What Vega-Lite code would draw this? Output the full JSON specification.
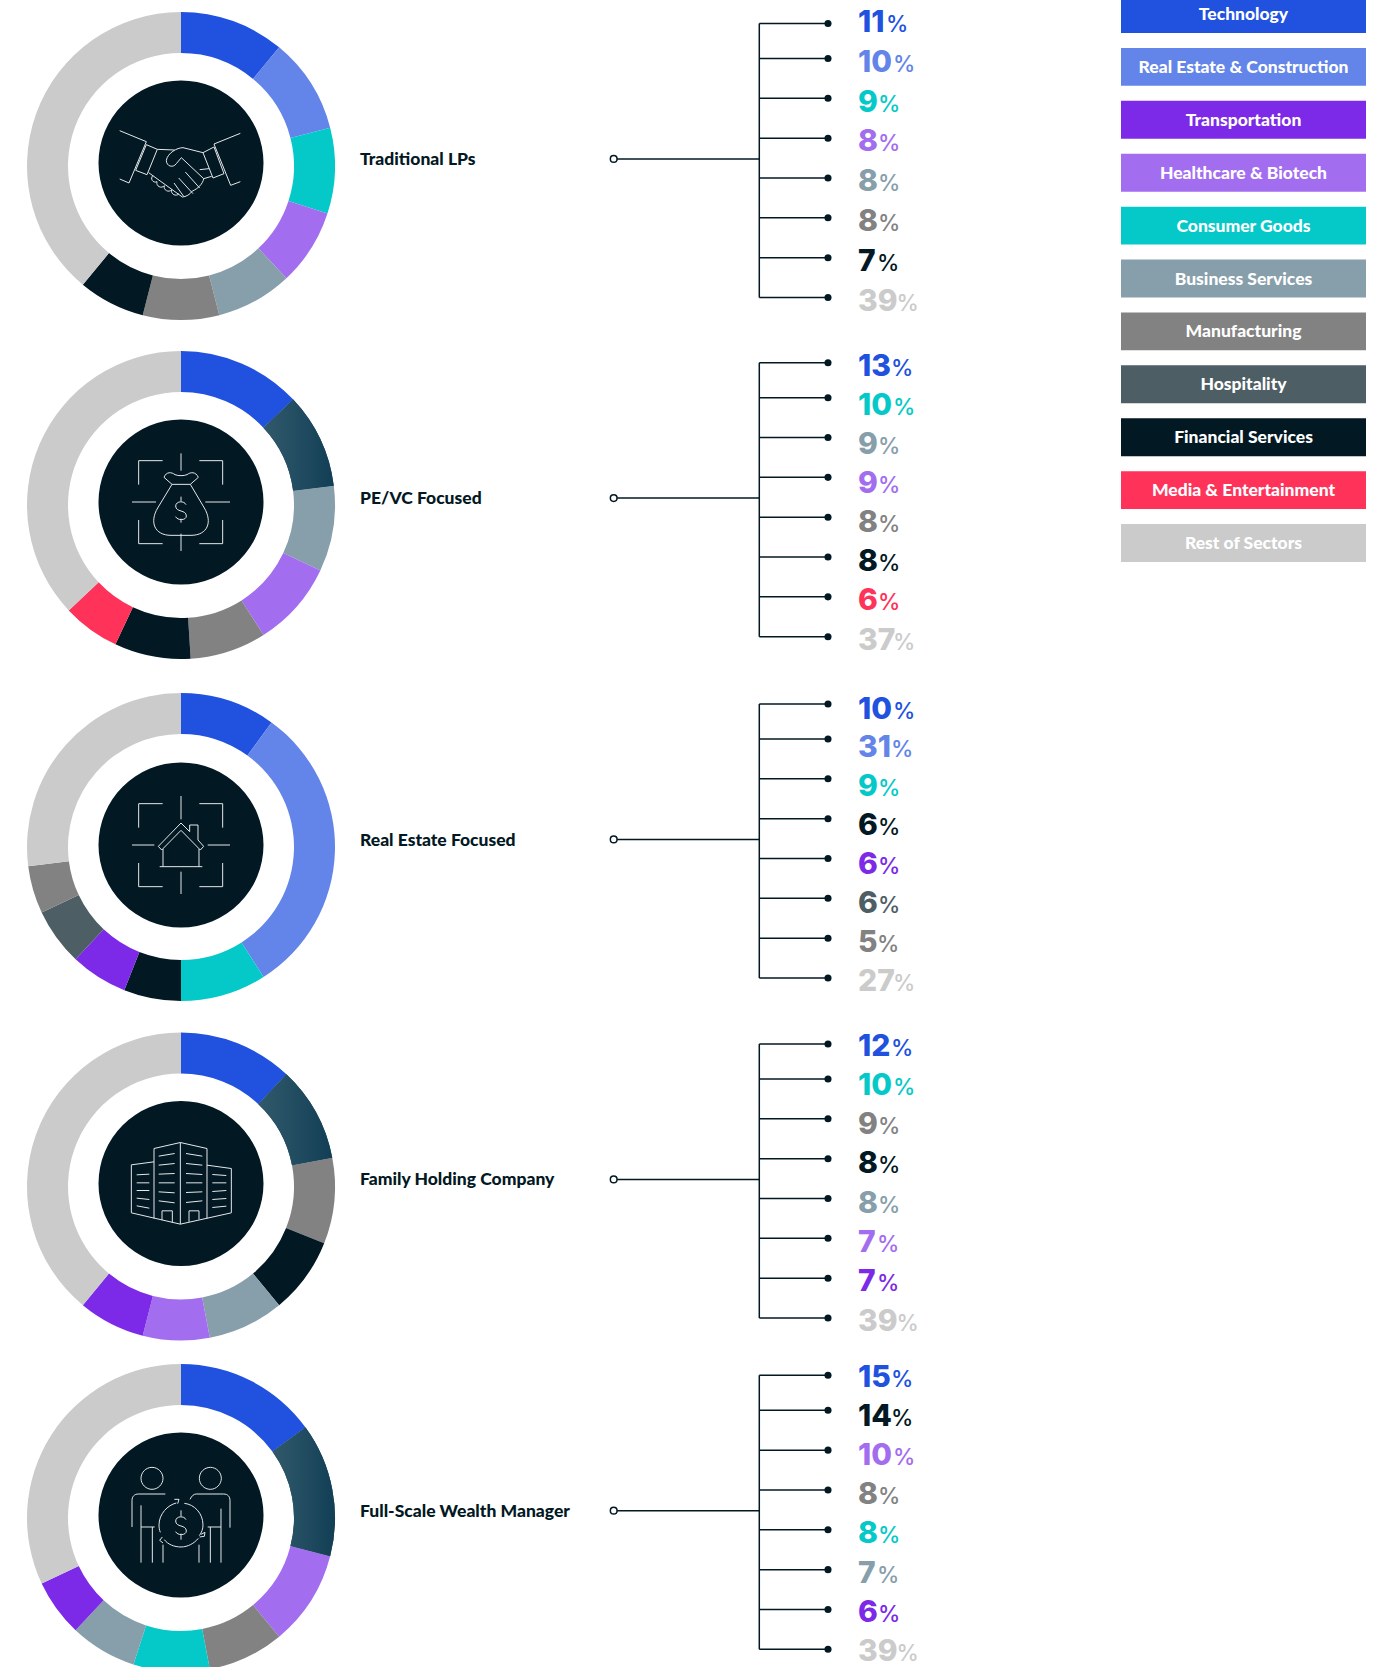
{"$schema":"https://vega.github.io/schema/vega-lite/v6.json","padding":0,"background":"white","spacing":0,"config":{"view":{"stroke":null},"concat":{"spacing":0},"axis":{"disable":true},"legend":{"disable":true}},
"datasets":{"groups":[{"group":"Traditional LPs"},{"group":"PE/VC Focused"},{"group":"Real Estate Focused"},{"group":"Family Holding Company"},{"group":"Full-Scale Wealth Manager"}],
"legend":[{"sector":"Technology"},{"sector":"Real Estate & Construction"},{"sector":"Transportation"},{"sector":"Healthcare & Biotech"},{"sector":"Consumer Goods"},{"sector":"Business Services"},{"sector":"Manufacturing"},{"sector":"Hospitality"},{"sector":"Financial Services"},{"sector":"Media & Entertainment"},{"sector":"Rest of Sectors"}],
"rows":[
{"group":"Traditional LPs","rank":1,"sector":"Technology","ring":"Technology","value":11,"share":11},
{"group":"Traditional LPs","rank":2,"sector":"Real Estate & Construction","ring":"Real Estate & Construction","value":10,"share":10},
{"group":"Traditional LPs","rank":3,"sector":"Consumer Goods","ring":"Consumer Goods","value":9,"share":9},
{"group":"Traditional LPs","rank":4,"sector":"Healthcare & Biotech","ring":"Healthcare & Biotech","value":8,"share":8},
{"group":"Traditional LPs","rank":5,"sector":"Business Services","ring":"Business Services","value":8,"share":8},
{"group":"Traditional LPs","rank":6,"sector":"Manufacturing","ring":"Manufacturing","value":8,"share":8},
{"group":"Traditional LPs","rank":7,"sector":"Financial Services","ring":"Financial Services","value":7,"share":7},
{"group":"Traditional LPs","rank":8,"sector":"Rest of Sectors","ring":"Rest of Sectors","value":39,"share":39},
{"group":"PE/VC Focused","rank":1,"sector":"Technology","ring":"Technology","value":13,"share":13},
{"group":"PE/VC Focused","rank":2,"sector":"Consumer Goods","ring":"Deep","value":10,"share":10},
{"group":"PE/VC Focused","rank":3,"sector":"Business Services","ring":"Business Services","value":9,"share":9},
{"group":"PE/VC Focused","rank":4,"sector":"Healthcare & Biotech","ring":"Healthcare & Biotech","value":9,"share":9},
{"group":"PE/VC Focused","rank":5,"sector":"Manufacturing","ring":"Manufacturing","value":8,"share":8},
{"group":"PE/VC Focused","rank":6,"sector":"Financial Services","ring":"Financial Services","value":8,"share":8},
{"group":"PE/VC Focused","rank":7,"sector":"Media & Entertainment","ring":"Media & Entertainment","value":6,"share":6},
{"group":"PE/VC Focused","rank":8,"sector":"Rest of Sectors","ring":"Rest of Sectors","value":37,"share":37},
{"group":"Real Estate Focused","rank":1,"sector":"Technology","ring":"Technology","value":10,"share":10},
{"group":"Real Estate Focused","rank":2,"sector":"Real Estate & Construction","ring":"Real Estate & Construction","value":31,"share":31},
{"group":"Real Estate Focused","rank":3,"sector":"Consumer Goods","ring":"Consumer Goods","value":9,"share":9},
{"group":"Real Estate Focused","rank":4,"sector":"Financial Services","ring":"Financial Services","value":6,"share":6},
{"group":"Real Estate Focused","rank":5,"sector":"Transportation","ring":"Transportation","value":6,"share":6},
{"group":"Real Estate Focused","rank":6,"sector":"Hospitality","ring":"Hospitality","value":6,"share":6},
{"group":"Real Estate Focused","rank":7,"sector":"Manufacturing","ring":"Manufacturing","value":5,"share":5},
{"group":"Real Estate Focused","rank":8,"sector":"Rest of Sectors","ring":"Rest of Sectors","value":27,"share":27},
{"group":"Family Holding Company","rank":1,"sector":"Technology","ring":"Technology","value":12,"share":12},
{"group":"Family Holding Company","rank":2,"sector":"Consumer Goods","ring":"Deep","value":10,"share":10},
{"group":"Family Holding Company","rank":3,"sector":"Manufacturing","ring":"Manufacturing","value":9,"share":9},
{"group":"Family Holding Company","rank":4,"sector":"Financial Services","ring":"Financial Services","value":8,"share":8},
{"group":"Family Holding Company","rank":5,"sector":"Business Services","ring":"Business Services","value":8,"share":8},
{"group":"Family Holding Company","rank":6,"sector":"Healthcare & Biotech","ring":"Healthcare & Biotech","value":7,"share":7},
{"group":"Family Holding Company","rank":7,"sector":"Transportation","ring":"Transportation","value":7,"share":7},
{"group":"Family Holding Company","rank":8,"sector":"Rest of Sectors","ring":"Rest of Sectors","value":39,"share":39},
{"group":"Full-Scale Wealth Manager","rank":1,"sector":"Technology","ring":"Technology","value":15,"share":15},
{"group":"Full-Scale Wealth Manager","rank":2,"sector":"Financial Services","ring":"Deep","value":14,"share":14},
{"group":"Full-Scale Wealth Manager","rank":3,"sector":"Healthcare & Biotech","ring":"Healthcare & Biotech","value":10,"share":10},
{"group":"Full-Scale Wealth Manager","rank":4,"sector":"Manufacturing","ring":"Manufacturing","value":8,"share":8},
{"group":"Full-Scale Wealth Manager","rank":5,"sector":"Consumer Goods","ring":"Consumer Goods","value":8,"share":8},
{"group":"Full-Scale Wealth Manager","rank":6,"sector":"Business Services","ring":"Business Services","value":7,"share":7},
{"group":"Full-Scale Wealth Manager","rank":7,"sector":"Transportation","ring":"Transportation","value":6,"share":6},
{"group":"Full-Scale Wealth Manager","rank":8,"sector":"Rest of Sectors","ring":"Rest of Sectors","value":39,"share":32}
]},
"hconcat":[
{"spacing":0,"vconcat":[
{"bounds":"flush","spacing":0,"hconcat":[
{"width":362,"height":332,"layer":[
{"data":{"name":"rows"},"transform":[{"filter":"datum.group==='Traditional LPs'"}],"mark":{"type":"arc","innerRadius":113,"outerRadius":154},"encoding":{"theta":{"field":"share","type":"quantitative","stack":true},"order":{"field":"rank"},"color":{"field":"ring","type":"nominal","scale":{"domain":["Technology","Real Estate & Construction","Transportation","Healthcare & Biotech","Consumer Goods","Business Services","Manufacturing","Hospitality","Financial Services","Media & Entertainment","Rest of Sectors","Deep"],"range":["#2151DF","#6384E8","#7C2AE8","#A36DF0","#05C9C8","#879EAB","#828282","#4D5E65","#021823","#FF3259","#CBCBCB","#1F4A5E"]}}}},
{"data":{"name":"groups"},"transform":[{"filter":"datum.group==='Traditional LPs'"}],"mark":{"type":"point","filled":true,"fill":"#021823","opacity":1,"size":27225,"yOffset":-3},"encoding":{}},
{"data":{"name":"groups"},"transform":[{"filter":"datum.group==='Traditional LPs'"}],"mark":{"type":"point","filled":false,"stroke":"#FFFFFF","strokeWidth":1,"opacity":0.9,"size":0.4444,"yOffset":-3,"shape":"M-184,-97 L-104,-64 L-156,60 L-184,48 M-104,-55 L-71,-41 L-102,35 L-136,22 Z M178,-89 L99,-57 L149,67 L178,56 M66,-31 L99,-48 L129,32 L96,45 Z M-71,-41 L-19,-39 M66,-31 L6,-46 C-12,-46 -40,-30 -44,-8 C-44,10 -24,16 -14,2 L1,-16 L68,47 C66,62 50,78 34,84 C28,94 14,102 4,102 L-97,29 M56,20 L84,17 M68,47 L92,40 M13,27 L56,75 M-7,45 L36,92 M-21,60 L8,100 M-84,38 C-94,46 -84,62 -72,56 C-76,70 -58,78 -50,68 C-54,82 -36,90 -28,80 C-32,94 -14,102 -6,92"},"encoding":{}}
]},
{"width":238,"height":332,"data":{"name":"groups"},"transform":[{"filter":"datum.group==='Traditional LPs'"}],"mark":{"type":"text","align":"left","baseline":"middle","font":"Lato","fontWeight":900,"fontSize":17.5,"fill":"#021823","yOffset":-6},"encoding":{"x":{"datum":0,"scale":{"domain":[0,1],"range":[-2,238]}},"text":{"field":"group"}}},
{"width":240,"height":332,"layer":[
{"data":{"name":"rows"},"transform":[{"filter":"datum.group==='Traditional LPs'"}],"mark":{"type":"rule","stroke":"#021823","strokeWidth":1.5},"encoding":{"x":{"datum":0,"scale":{"domain":[-1,0,1],"range":[13.7,159.3,228]}},"x2":{"datum":1},"y":{"field":"rank","type":"quantitative","scale":{"domain":[1,2,8],"range":[23.5,58.5,297.5]}}}},
{"data":{"name":"rows"},"transform":[{"filter":"datum.group==='Traditional LPs'"},{"aggregate":[{"op":"min","field":"rank","as":"a"},{"op":"max","field":"rank","as":"b"}]}],"mark":{"type":"rule","stroke":"#021823","strokeWidth":1.5},"encoding":{"x":{"datum":0},"y":{"field":"a","type":"quantitative"},"y2":{"field":"b"}}},
{"data":{"name":"groups"},"transform":[{"filter":"datum.group==='Traditional LPs'"}],"mark":{"type":"rule","stroke":"#021823","strokeWidth":1.5},"encoding":{"x":{"datum":-1},"x2":{"datum":0},"y":{"datum":4.52}}},
{"data":{"name":"rows"},"transform":[{"filter":"datum.group==='Traditional LPs'"}],"mark":{"type":"point","filled":true,"fill":"#021823","opacity":1,"size":50},"encoding":{"x":{"datum":1},"y":{"field":"rank","type":"quantitative"}}},
{"data":{"name":"groups"},"transform":[{"filter":"datum.group==='Traditional LPs'"}],"mark":{"type":"point","filled":true,"fill":"#FFFFFF","stroke":"#021823","strokeWidth":1.5,"opacity":1,"size":45},"encoding":{"x":{"datum":-1},"y":{"datum":4.52}}}
]},
{"width":281,"height":332,"layer":[
{"data":{"name":"rows"},"transform":[{"filter":"datum.group==='Traditional LPs'"}],"mark":{"type":"text","align":"left","baseline":"alphabetic","dy":10.5,"font":"Inter","fontWeight":800,"fontSize":30},"encoding":{"x":{"datum":0,"scale":{"domain":[0,1],"range":[18,281]}},"y":{"field":"rank","type":"quantitative","scale":{"domain":[1,8],"range":[21.7,300]}},"text":{"field":"value"},"color":{"field":"sector","type":"nominal","scale":{"domain":["Technology","Real Estate & Construction","Transportation","Healthcare & Biotech","Consumer Goods","Business Services","Manufacturing","Hospitality","Financial Services","Media & Entertainment","Rest of Sectors"],"range":["#2151DF","#6384E8","#7C2AE8","#A36DF0","#05C9C8","#879EAB","#828282","#4D5E65","#021823","#FF3259","#CBCBCB"]}}}},
{"data":{"name":"rows"},"transform":[{"filter":"datum.group==='Traditional LPs'"}],"mark":{"type":"text","align":"left","baseline":"alphabetic","dy":10.5,"font":"Inter","fontWeight":500,"fontSize":22.5,"text":"%"},"encoding":{"x":{"datum":0},"xOffset":{"field":"value","type":"quantitative","scale":{"domain":[5,6,7,8,9,10,11,12,13,14,15,27,31,37,39],"range":[19,20,19,20,20,35,28,33,33,33,33,35,33,35,38.5]}},"y":{"field":"rank","type":"quantitative"},"color":{"field":"sector","type":"nominal"}}}
]}
]},
{"bounds":"flush","spacing":0,"hconcat":[
{"width":362,"height":346,"layer":[
{"data":{"name":"rows"},"transform":[{"filter":"datum.group==='PE/VC Focused'"}],"mark":{"type":"arc","innerRadius":113,"outerRadius":154},"encoding":{"theta":{"field":"share","type":"quantitative","stack":true},"order":{"field":"rank"},"color":{"field":"ring","type":"nominal","scale":{"domain":["Technology","Real Estate & Construction","Transportation","Healthcare & Biotech","Consumer Goods","Business Services","Manufacturing","Hospitality","Financial Services","Media & Entertainment","Rest of Sectors","Deep"],"range":["#2151DF","#6384E8","#7C2AE8","#A36DF0","#05C9C8","#879EAB","#828282","#4D5E65","#021823","#FF3259","#CBCBCB","#1F4A5E"]}}}},
{"data":{"name":"rows"},"transform":[{"filter":"datum.group==='PE/VC Focused'"},{"stack":"share","groupby":[],"sort":[{"field":"rank"}],"as":["t0","t1"]},{"filter":"datum.ring==='Deep'"}],"mark":{"type":"arc","innerRadius":113,"outerRadius":154,"fill":{"gradient":"linear","x1":0,"y1":0,"x2":1,"y2":0,"stops":[{"offset":0,"color":"#31596B"},{"offset":1,"color":"#123F56"}]}},"encoding":{"theta":{"field":"t0","type":"quantitative","scale":{"domain":[0,100]}},"theta2":{"field":"t1"}}},
{"data":{"name":"groups"},"transform":[{"filter":"datum.group==='PE/VC Focused'"}],"mark":{"type":"point","filled":true,"fill":"#021823","opacity":1,"size":27225,"yOffset":-3},"encoding":{}},
{"data":{"name":"groups"},"transform":[{"filter":"datum.group==='PE/VC Focused'"}],"mark":{"type":"point","filled":false,"stroke":"#FFFFFF","strokeWidth":1,"opacity":0.9,"size":0.4444,"yOffset":-3,"shape":"M-55,-124 L-127,-124 L-127,-52 M55,-124 L125,-124 L125,-52 M-127,54 L-127,125 L-55,125 M125,54 L125,125 L55,125 M0,-146 L0,-94 M0,95 L0,147 M-147,0 L-75,0 M73,0 L147,0 M-27,-53 L28,-53 L70,18 C95,60 80,100 30,100 L-30,100 C-80,100 -95,60 -70,18 L-27,-53 L-51,-74 C-44,-92 -28,-90 -18,-82 C-8,-78 8,-78 18,-82 C28,-90 44,-92 52,-74 L28,-53 M15,8 C10,-4 -15,-4 -16,12 C-16,32 16,22 16,42 C16,56 -11,56 -16,44 M0,-16 L0,-2 M0,50 L0,62"},"encoding":{}}
]},
{"width":238,"height":346,"data":{"name":"groups"},"transform":[{"filter":"datum.group==='PE/VC Focused'"}],"mark":{"type":"text","align":"left","baseline":"middle","font":"Lato","fontWeight":900,"fontSize":17.5,"fill":"#021823","yOffset":-6},"encoding":{"x":{"datum":0,"scale":{"domain":[0,1],"range":[-2,238]}},"text":{"field":"group"}}},
{"width":240,"height":346,"layer":[
{"data":{"name":"rows"},"transform":[{"filter":"datum.group==='PE/VC Focused'"}],"mark":{"type":"rule","stroke":"#021823","strokeWidth":1.5},"encoding":{"x":{"datum":0,"scale":{"domain":[-1,0,1],"range":[13.7,159.3,228]}},"x2":{"datum":1},"y":{"field":"rank","type":"quantitative","scale":{"domain":[1,2,8],"range":[30.7,65.7,304.7]}}}},
{"data":{"name":"rows"},"transform":[{"filter":"datum.group==='PE/VC Focused'"},{"aggregate":[{"op":"min","field":"rank","as":"a"},{"op":"max","field":"rank","as":"b"}]}],"mark":{"type":"rule","stroke":"#021823","strokeWidth":1.5},"encoding":{"x":{"datum":0},"y":{"field":"a","type":"quantitative"},"y2":{"field":"b"}}},
{"data":{"name":"groups"},"transform":[{"filter":"datum.group==='PE/VC Focused'"}],"mark":{"type":"rule","stroke":"#021823","strokeWidth":1.5},"encoding":{"x":{"datum":-1},"x2":{"datum":0},"y":{"datum":4.52}}},
{"data":{"name":"rows"},"transform":[{"filter":"datum.group==='PE/VC Focused'"}],"mark":{"type":"point","filled":true,"fill":"#021823","opacity":1,"size":50},"encoding":{"x":{"datum":1},"y":{"field":"rank","type":"quantitative"}}},
{"data":{"name":"groups"},"transform":[{"filter":"datum.group==='PE/VC Focused'"}],"mark":{"type":"point","filled":true,"fill":"#FFFFFF","stroke":"#021823","strokeWidth":1.5,"opacity":1,"size":45},"encoding":{"x":{"datum":-1},"y":{"datum":4.52}}}
]},
{"width":281,"height":346,"layer":[
{"data":{"name":"rows"},"transform":[{"filter":"datum.group==='PE/VC Focused'"}],"mark":{"type":"text","align":"left","baseline":"alphabetic","dy":10.5,"font":"Inter","fontWeight":800,"fontSize":30},"encoding":{"x":{"datum":0,"scale":{"domain":[0,1],"range":[18,281]}},"y":{"field":"rank","type":"quantitative","scale":{"domain":[1,8],"range":[33.5,307]}},"text":{"field":"value"},"color":{"field":"sector","type":"nominal","scale":{"domain":["Technology","Real Estate & Construction","Transportation","Healthcare & Biotech","Consumer Goods","Business Services","Manufacturing","Hospitality","Financial Services","Media & Entertainment","Rest of Sectors"],"range":["#2151DF","#6384E8","#7C2AE8","#A36DF0","#05C9C8","#879EAB","#828282","#4D5E65","#021823","#FF3259","#CBCBCB"]}}}},
{"data":{"name":"rows"},"transform":[{"filter":"datum.group==='PE/VC Focused'"}],"mark":{"type":"text","align":"left","baseline":"alphabetic","dy":10.5,"font":"Inter","fontWeight":500,"fontSize":22.5,"text":"%"},"encoding":{"x":{"datum":0},"xOffset":{"field":"value","type":"quantitative","scale":{"domain":[5,6,7,8,9,10,11,12,13,14,15,27,31,37,39],"range":[19,20,19,20,20,35,28,33,33,33,33,35,33,35,38.5]}},"y":{"field":"rank","type":"quantitative"},"color":{"field":"sector","type":"nominal"}}}
]}
]},
{"bounds":"flush","spacing":0,"hconcat":[
{"width":362,"height":338,"layer":[
{"data":{"name":"rows"},"transform":[{"filter":"datum.group==='Real Estate Focused'"}],"mark":{"type":"arc","innerRadius":113,"outerRadius":154},"encoding":{"theta":{"field":"share","type":"quantitative","stack":true},"order":{"field":"rank"},"color":{"field":"ring","type":"nominal","scale":{"domain":["Technology","Real Estate & Construction","Transportation","Healthcare & Biotech","Consumer Goods","Business Services","Manufacturing","Hospitality","Financial Services","Media & Entertainment","Rest of Sectors","Deep"],"range":["#2151DF","#6384E8","#7C2AE8","#A36DF0","#05C9C8","#879EAB","#828282","#4D5E65","#021823","#FF3259","#CBCBCB","#1F4A5E"]}}}},
{"data":{"name":"groups"},"transform":[{"filter":"datum.group==='Real Estate Focused'"}],"mark":{"type":"point","filled":true,"fill":"#021823","opacity":1,"size":27225,"yOffset":-2},"encoding":{}},
{"data":{"name":"groups"},"transform":[{"filter":"datum.group==='Real Estate Focused'"}],"mark":{"type":"point","filled":false,"stroke":"#FFFFFF","strokeWidth":1,"opacity":0.9,"size":0.4444,"yOffset":-2,"shape":"M-55,-124 L-127,-124 L-127,-52 M55,-124 L125,-124 L125,-52 M-127,54 L-127,125 L-55,125 M125,54 L125,125 L55,125 M0,-147 L0,-77 M0,80 L0,147 M-147,0 L-80,0 M80,0 L147,0 M-68,4 L0,-66 L26,-40 L26,-60 L51,-60 L51,-15 L68,4 L58,15 L0,-44 L-58,15 Z M-54,12 L-54,65 M54,12 L54,65 M-64,65 L64,65"},"encoding":{}}
]},
{"width":238,"height":338,"data":{"name":"groups"},"transform":[{"filter":"datum.group==='Real Estate Focused'"}],"mark":{"type":"text","align":"left","baseline":"middle","font":"Lato","fontWeight":900,"fontSize":17.5,"fill":"#021823","yOffset":-6},"encoding":{"x":{"datum":0,"scale":{"domain":[0,1],"range":[-2,238]}},"text":{"field":"group"}}},
{"width":240,"height":338,"layer":[
{"data":{"name":"rows"},"transform":[{"filter":"datum.group==='Real Estate Focused'"}],"mark":{"type":"rule","stroke":"#021823","strokeWidth":1.5},"encoding":{"x":{"datum":0,"scale":{"domain":[-1,0,1],"range":[13.7,159.3,228]}},"x2":{"datum":1},"y":{"field":"rank","type":"quantitative","scale":{"domain":[1,2,8],"range":[26,61,300]}}}},
{"data":{"name":"rows"},"transform":[{"filter":"datum.group==='Real Estate Focused'"},{"aggregate":[{"op":"min","field":"rank","as":"a"},{"op":"max","field":"rank","as":"b"}]}],"mark":{"type":"rule","stroke":"#021823","strokeWidth":1.5},"encoding":{"x":{"datum":0},"y":{"field":"a","type":"quantitative"},"y2":{"field":"b"}}},
{"data":{"name":"groups"},"transform":[{"filter":"datum.group==='Real Estate Focused'"}],"mark":{"type":"rule","stroke":"#021823","strokeWidth":1.5},"encoding":{"x":{"datum":-1},"x2":{"datum":0},"y":{"datum":4.52}}},
{"data":{"name":"rows"},"transform":[{"filter":"datum.group==='Real Estate Focused'"}],"mark":{"type":"point","filled":true,"fill":"#021823","opacity":1,"size":50},"encoding":{"x":{"datum":1},"y":{"field":"rank","type":"quantitative"}}},
{"data":{"name":"groups"},"transform":[{"filter":"datum.group==='Real Estate Focused'"}],"mark":{"type":"point","filled":true,"fill":"#FFFFFF","stroke":"#021823","strokeWidth":1.5,"opacity":1,"size":45},"encoding":{"x":{"datum":-1},"y":{"datum":4.52}}}
]},
{"width":281,"height":338,"layer":[
{"data":{"name":"rows"},"transform":[{"filter":"datum.group==='Real Estate Focused'"}],"mark":{"type":"text","align":"left","baseline":"alphabetic","dy":10.5,"font":"Inter","fontWeight":800,"fontSize":30},"encoding":{"x":{"datum":0,"scale":{"domain":[0,1],"range":[18,281]}},"y":{"field":"rank","type":"quantitative","scale":{"domain":[1,8],"range":[30,302.5]}},"text":{"field":"value"},"color":{"field":"sector","type":"nominal","scale":{"domain":["Technology","Real Estate & Construction","Transportation","Healthcare & Biotech","Consumer Goods","Business Services","Manufacturing","Hospitality","Financial Services","Media & Entertainment","Rest of Sectors"],"range":["#2151DF","#6384E8","#7C2AE8","#A36DF0","#05C9C8","#879EAB","#828282","#4D5E65","#021823","#FF3259","#CBCBCB"]}}}},
{"data":{"name":"rows"},"transform":[{"filter":"datum.group==='Real Estate Focused'"}],"mark":{"type":"text","align":"left","baseline":"alphabetic","dy":10.5,"font":"Inter","fontWeight":500,"fontSize":22.5,"text":"%"},"encoding":{"x":{"datum":0},"xOffset":{"field":"value","type":"quantitative","scale":{"domain":[5,6,7,8,9,10,11,12,13,14,15,27,31,37,39],"range":[19,20,19,20,20,35,28,33,33,33,33,35,33,35,38.5]}},"y":{"field":"rank","type":"quantitative"},"color":{"field":"sector","type":"nominal"}}}
]}
]},
{"bounds":"flush","spacing":0,"hconcat":[
{"width":362,"height":341,"layer":[
{"data":{"name":"rows"},"transform":[{"filter":"datum.group==='Family Holding Company'"}],"mark":{"type":"arc","innerRadius":113,"outerRadius":154},"encoding":{"theta":{"field":"share","type":"quantitative","stack":true},"order":{"field":"rank"},"color":{"field":"ring","type":"nominal","scale":{"domain":["Technology","Real Estate & Construction","Transportation","Healthcare & Biotech","Consumer Goods","Business Services","Manufacturing","Hospitality","Financial Services","Media & Entertainment","Rest of Sectors","Deep"],"range":["#2151DF","#6384E8","#7C2AE8","#A36DF0","#05C9C8","#879EAB","#828282","#4D5E65","#021823","#FF3259","#CBCBCB","#1F4A5E"]}}}},
{"data":{"name":"rows"},"transform":[{"filter":"datum.group==='Family Holding Company'"},{"stack":"share","groupby":[],"sort":[{"field":"rank"}],"as":["t0","t1"]},{"filter":"datum.ring==='Deep'"}],"mark":{"type":"arc","innerRadius":113,"outerRadius":154,"fill":{"gradient":"linear","x1":0,"y1":0,"x2":1,"y2":0,"stops":[{"offset":0,"color":"#31596B"},{"offset":1,"color":"#123F56"}]}},"encoding":{"theta":{"field":"t0","type":"quantitative","scale":{"domain":[0,100]}},"theta2":{"field":"t1"}}},
{"data":{"name":"groups"},"transform":[{"filter":"datum.group==='Family Holding Company'"}],"mark":{"type":"point","filled":true,"fill":"#021823","opacity":1,"size":27225,"yOffset":-3},"encoding":{}},
{"data":{"name":"groups"},"transform":[{"filter":"datum.group==='Family Holding Company'"}],"mark":{"type":"point","filled":false,"stroke":"#FFFFFF","strokeWidth":1,"opacity":0.9,"size":0.4444,"yOffset":-3,"shape":"M-81,105 L-81,-105 L-2,-123 L78,-105 L78,105 M-2,-123 L-2,122 M-149,88 L-2,122 L151,88 M-149,88 L-149,-56 L-81,-65 M78,-55 L151,-45 L151,88 M-57,110 L-57,82 L-26,82 L-26,117 M24,115 L24,82 L54,82 L54,108 M-67,-82 L-19,-90 M-67,-55 L-19,-60 M-67,-28 L-19,-30 M-67,-2 L-19,-2 M-67,25 L-19,28 M-67,52 L-19,58 M15,-90 L64,-82 M15,-60 L64,-55 M15,-30 L64,-27 M15,-2 L64,-2 M15,27 L64,25 M15,57 L64,52 M-133,-26 L-95,-28 M-133,-2 L-95,-2 M-133,21 L-95,21 M-133,44 L-95,48 M-133,67 L-95,74 M94,-27 L136,-24 M94,-2 L136,-2 M94,24 L136,21 M94,48 L136,45 M94,72 L136,68"},"encoding":{}}
]},
{"width":238,"height":341,"data":{"name":"groups"},"transform":[{"filter":"datum.group==='Family Holding Company'"}],"mark":{"type":"text","align":"left","baseline":"middle","font":"Lato","fontWeight":900,"fontSize":17.5,"fill":"#021823","yOffset":-7},"encoding":{"x":{"datum":0,"scale":{"domain":[0,1],"range":[-2,238]}},"text":{"field":"group"}}},
{"width":240,"height":341,"layer":[
{"data":{"name":"rows"},"transform":[{"filter":"datum.group==='Family Holding Company'"}],"mark":{"type":"rule","stroke":"#021823","strokeWidth":1.5},"encoding":{"x":{"datum":0,"scale":{"domain":[-1,0,1],"range":[13.7,159.3,228]}},"x2":{"datum":1},"y":{"field":"rank","type":"quantitative","scale":{"domain":[1,2,8],"range":[28,63,302]}}}},
{"data":{"name":"rows"},"transform":[{"filter":"datum.group==='Family Holding Company'"},{"aggregate":[{"op":"min","field":"rank","as":"a"},{"op":"max","field":"rank","as":"b"}]}],"mark":{"type":"rule","stroke":"#021823","strokeWidth":1.5},"encoding":{"x":{"datum":0},"y":{"field":"a","type":"quantitative"},"y2":{"field":"b"}}},
{"data":{"name":"groups"},"transform":[{"filter":"datum.group==='Family Holding Company'"}],"mark":{"type":"rule","stroke":"#021823","strokeWidth":1.5},"encoding":{"x":{"datum":-1},"x2":{"datum":0},"y":{"datum":4.52}}},
{"data":{"name":"rows"},"transform":[{"filter":"datum.group==='Family Holding Company'"}],"mark":{"type":"point","filled":true,"fill":"#021823","opacity":1,"size":50},"encoding":{"x":{"datum":1},"y":{"field":"rank","type":"quantitative"}}},
{"data":{"name":"groups"},"transform":[{"filter":"datum.group==='Family Holding Company'"}],"mark":{"type":"point","filled":true,"fill":"#FFFFFF","stroke":"#021823","strokeWidth":1.5,"opacity":1,"size":45},"encoding":{"x":{"datum":-1},"y":{"datum":4.52}}}
]},
{"width":281,"height":341,"layer":[
{"data":{"name":"rows"},"transform":[{"filter":"datum.group==='Family Holding Company'"}],"mark":{"type":"text","align":"left","baseline":"alphabetic","dy":10.5,"font":"Inter","fontWeight":800,"fontSize":30},"encoding":{"x":{"datum":0,"scale":{"domain":[0,1],"range":[18,281]}},"y":{"field":"rank","type":"quantitative","scale":{"domain":[1,8],"range":[29,304]}},"text":{"field":"value"},"color":{"field":"sector","type":"nominal","scale":{"domain":["Technology","Real Estate & Construction","Transportation","Healthcare & Biotech","Consumer Goods","Business Services","Manufacturing","Hospitality","Financial Services","Media & Entertainment","Rest of Sectors"],"range":["#2151DF","#6384E8","#7C2AE8","#A36DF0","#05C9C8","#879EAB","#828282","#4D5E65","#021823","#FF3259","#CBCBCB"]}}}},
{"data":{"name":"rows"},"transform":[{"filter":"datum.group==='Family Holding Company'"}],"mark":{"type":"text","align":"left","baseline":"alphabetic","dy":10.5,"font":"Inter","fontWeight":500,"fontSize":22.5,"text":"%"},"encoding":{"x":{"datum":0},"xOffset":{"field":"value","type":"quantitative","scale":{"domain":[5,6,7,8,9,10,11,12,13,14,15,27,31,37,39],"range":[19,20,19,20,20,35,28,33,33,33,33,35,33,35,38.5]}},"y":{"field":"rank","type":"quantitative"},"color":{"field":"sector","type":"nominal"}}}
]}
]},
{"bounds":"flush","spacing":0,"hconcat":[
{"width":362,"height":322,"layer":[
{"data":{"name":"rows"},"transform":[{"filter":"datum.group==='Full-Scale Wealth Manager'"}],"mark":{"type":"arc","innerRadius":113,"outerRadius":154},"encoding":{"theta":{"field":"share","type":"quantitative","stack":true},"order":{"field":"rank"},"color":{"field":"ring","type":"nominal","scale":{"domain":["Technology","Real Estate & Construction","Transportation","Healthcare & Biotech","Consumer Goods","Business Services","Manufacturing","Hospitality","Financial Services","Media & Entertainment","Rest of Sectors","Deep"],"range":["#2151DF","#6384E8","#7C2AE8","#A36DF0","#05C9C8","#879EAB","#828282","#4D5E65","#021823","#FF3259","#CBCBCB","#1F4A5E"]}}}},
{"data":{"name":"rows"},"transform":[{"filter":"datum.group==='Full-Scale Wealth Manager'"},{"stack":"share","groupby":[],"sort":[{"field":"rank"}],"as":["t0","t1"]},{"filter":"datum.ring==='Deep'"}],"mark":{"type":"arc","innerRadius":113,"outerRadius":154,"fill":{"gradient":"linear","x1":0,"y1":0,"x2":1,"y2":0,"stops":[{"offset":0,"color":"#31596B"},{"offset":1,"color":"#123F56"}]}},"encoding":{"theta":{"field":"t0","type":"quantitative","scale":{"domain":[0,100]}},"theta2":{"field":"t1"}}},
{"data":{"name":"groups"},"transform":[{"filter":"datum.group==='Full-Scale Wealth Manager'"}],"mark":{"type":"point","filled":true,"fill":"#021823","opacity":1,"size":27225,"yOffset":-3},"encoding":{}},
{"data":{"name":"groups"},"transform":[{"filter":"datum.group==='Full-Scale Wealth Manager'"}],"mark":{"type":"point","filled":false,"stroke":"#FFFFFF","strokeWidth":1,"opacity":0.9,"size":0.4444,"yOffset":-3,"shape":"M-54,-110 C-54,-92 -69,-77 -87,-77 C-105,-77 -120,-92 -120,-110 C-120,-128 -105,-143 -87,-143 C-69,-143 -54,-128 -54,-110 Z M121,-110 C121,-92 106,-77 88,-77 C70,-77 55,-92 55,-110 C55,-128 70,-143 88,-143 C106,-143 121,-128 121,-110 Z M-47,-63 L-128,-63 C-140,-63 -147,-55 -147,-44 L-147,36 M27,-47 C32,-57 38,-63 46,-63 L128,-63 C140,-63 147,-55 147,-44 L147,38 M-120,-29 L-120,143 M-86,36 L-86,143 M-120,36 L-79,36 M-54,89 L-54,143 M120,-19 L120,143 M88,36 L88,143 M80,36 L120,36 M54,89 L54,143 M10,-35 C40,-32 66,-5 66,30 C66,42 62,52 55,62 M52,70 C40,85 20,96 0,96 C-20,96 -40,88 -50,74 M-62,52 C-65,45 -66,38 -66,30 C-66,-3 -40,-30 -14,-36 M-20,-47 L-6,-47 L-10,-34 M60,58 L72,52 L70,64 L56,66 M-56,66 L-64,76 L-54,84 M15,14 C10,2 -15,2 -16,18 C-16,38 16,28 16,48 C16,62 -11,62 -16,50 M0,-14 L0,4 M0,56 L0,74"},"encoding":{}}
]},
{"width":238,"height":322,"data":{"name":"groups"},"transform":[{"filter":"datum.group==='Full-Scale Wealth Manager'"}],"mark":{"type":"text","align":"left","baseline":"middle","font":"Lato","fontWeight":900,"fontSize":17.5,"fill":"#021823","yOffset":-6},"encoding":{"x":{"datum":0,"scale":{"domain":[0,1],"range":[-2,238]}},"text":{"field":"group"}}},
{"width":240,"height":322,"layer":[
{"data":{"name":"rows"},"transform":[{"filter":"datum.group==='Full-Scale Wealth Manager'"}],"mark":{"type":"rule","stroke":"#021823","strokeWidth":1.5},"encoding":{"x":{"datum":0,"scale":{"domain":[-1,0,1],"range":[13.7,159.3,228]}},"x2":{"datum":1},"y":{"field":"rank","type":"quantitative","scale":{"domain":[1,2,8],"range":[18.3,53.3,292.3]}}}},
{"data":{"name":"rows"},"transform":[{"filter":"datum.group==='Full-Scale Wealth Manager'"},{"aggregate":[{"op":"min","field":"rank","as":"a"},{"op":"max","field":"rank","as":"b"}]}],"mark":{"type":"rule","stroke":"#021823","strokeWidth":1.5},"encoding":{"x":{"datum":0},"y":{"field":"a","type":"quantitative"},"y2":{"field":"b"}}},
{"data":{"name":"groups"},"transform":[{"filter":"datum.group==='Full-Scale Wealth Manager'"}],"mark":{"type":"rule","stroke":"#021823","strokeWidth":1.5},"encoding":{"x":{"datum":-1},"x2":{"datum":0},"y":{"datum":4.52}}},
{"data":{"name":"rows"},"transform":[{"filter":"datum.group==='Full-Scale Wealth Manager'"}],"mark":{"type":"point","filled":true,"fill":"#021823","opacity":1,"size":50},"encoding":{"x":{"datum":1},"y":{"field":"rank","type":"quantitative"}}},
{"data":{"name":"groups"},"transform":[{"filter":"datum.group==='Full-Scale Wealth Manager'"}],"mark":{"type":"point","filled":true,"fill":"#FFFFFF","stroke":"#021823","strokeWidth":1.5,"opacity":1,"size":45},"encoding":{"x":{"datum":-1},"y":{"datum":4.52}}}
]},
{"width":281,"height":322,"layer":[
{"data":{"name":"rows"},"transform":[{"filter":"datum.group==='Full-Scale Wealth Manager'"}],"mark":{"type":"text","align":"left","baseline":"alphabetic","dy":10.5,"font":"Inter","fontWeight":800,"fontSize":30},"encoding":{"x":{"datum":0,"scale":{"domain":[0,1],"range":[18,281]}},"y":{"field":"rank","type":"quantitative","scale":{"domain":[1,8],"range":[19.3,293.5]}},"text":{"field":"value"},"color":{"field":"sector","type":"nominal","scale":{"domain":["Technology","Real Estate & Construction","Transportation","Healthcare & Biotech","Consumer Goods","Business Services","Manufacturing","Hospitality","Financial Services","Media & Entertainment","Rest of Sectors"],"range":["#2151DF","#6384E8","#7C2AE8","#A36DF0","#05C9C8","#879EAB","#828282","#4D5E65","#021823","#FF3259","#CBCBCB"]}}}},
{"data":{"name":"rows"},"transform":[{"filter":"datum.group==='Full-Scale Wealth Manager'"}],"mark":{"type":"text","align":"left","baseline":"alphabetic","dy":10.5,"font":"Inter","fontWeight":500,"fontSize":22.5,"text":"%"},"encoding":{"x":{"datum":0},"xOffset":{"field":"value","type":"quantitative","scale":{"domain":[5,6,7,8,9,10,11,12,13,14,15,27,31,37,39],"range":[19,20,19,20,20,35,28,33,33,33,33,35,33,35,38.5]}},"y":{"field":"rank","type":"quantitative"},"color":{"field":"sector","type":"nominal"}}}
]}
]}
]},
{"width":245,"height":570,"data":{"name":"legend"},"encoding":{"y":{"field":"sector","type":"nominal","sort":null,"scale":{"domain":["Technology","Real Estate & Construction","Transportation","Healthcare & Biotech","Consumer Goods","Business Services","Manufacturing","Hospitality","Financial Services","Media & Entertainment","Rest of Sectors"],"range":[-5,562],"paddingInner":0.283,"paddingOuter":0}}},
"layer":[
{"mark":{"type":"rect","clip":true},"encoding":{"color":{"field":"sector","type":"nominal","scale":{"domain":["Technology","Real Estate & Construction","Transportation","Healthcare & Biotech","Consumer Goods","Business Services","Manufacturing","Hospitality","Financial Services","Media & Entertainment","Rest of Sectors"],"range":["#2151DF","#6384E8","#7C2AE8","#A36DF0","#05C9C8","#879EAB","#828282","#4D5E65","#021823","#FF3259","#CBCBCB"]}}}},
{"mark":{"type":"text","font":"Lato","fontWeight":900,"fontSize":17.5,"fill":"#FFFFFF","baseline":"middle","dy":1},"encoding":{"text":{"field":"sector"}}}
]}
]}
